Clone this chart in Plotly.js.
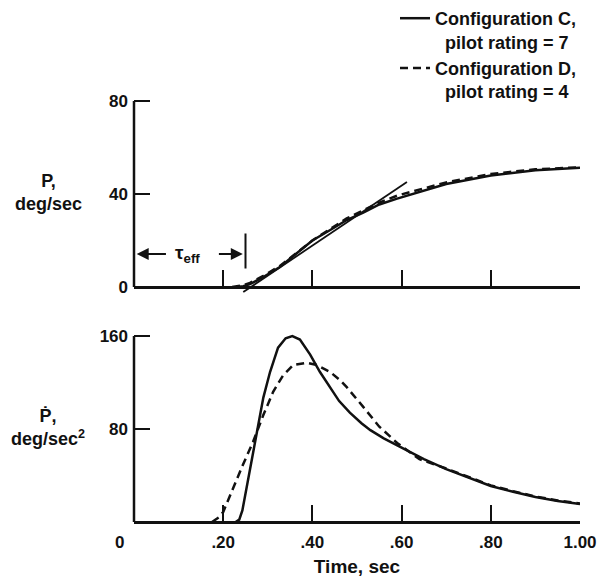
<!DOCTYPE html>
<html><head><meta charset="utf-8">
<script src="https://cdn.plot.ly/plotly-3.0.1.min.js"></script>
<style>html,body{margin:0;padding:0;background:#fff;} #chart{width:603px;height:579px;}</style>
</head><body><div id="chart"></div>
<script>
// ---- Top panel: roll rate P, deg/sec ----
const rollTimeC = [0.23, 0.245, 0.26, 0.29, 0.327, 0.365, 0.40, 0.44, 0.477, 0.514, 0.55, 0.59, 0.627, 0.70, 0.80, 0.90, 1.00];
const rollC     = [0,    0.3,   1.2,  4.3,  8.6,   14.6,  20,   24.5, 28.8,  32,    35.5, 38,   40.2,  44.3, 48,   50.2, 51.3];
const rollTimeD = [0.22, 0.245, 0.26, 0.29, 0.327, 0.365, 0.40, 0.44, 0.477, 0.514, 0.55, 0.59, 0.627, 0.70, 0.80, 0.90, 1.00];
const rollD     = [0,    0.8,   1.8,  4.8,  9,     14.8,  20,   25,   29.5,  33,    36.3, 39.3, 41.3,  45,   48.6, 50.6, 51.5];
// tangent line used to define effective time delay
const tangentTime = [0.245, 0.612];
const tangentRoll = [-2.2, 45.2];
const tauEff = 0.25;

// ---- Bottom panel: roll acceleration Pdot, deg/sec^2 ----
const accTimeC = [0.228, 0.236, 0.243, 0.25, 0.258, 0.267, 0.278, 0.29, 0.305, 0.323, 0.34, 0.355, 0.372, 0.395, 0.417, 0.44, 0.46, 0.484, 0.51, 0.53, 0.56, 0.60, 0.65, 0.70, 0.75, 0.80, 0.85, 0.90, 0.95, 1.00];
const accC     = [0,     2,     10,    24,   40,    59,    83,    107,  129,   150,   158,  160,   157,   144,   129,   115,  104,  94,    85,   79,   72,   64,   54,   45.5, 38,   31,   26,   21.5, 18,   15.5];
const accTimeD = [0.175, 0.19, 0.20, 0.222, 0.244, 0.267, 0.29, 0.312, 0.334, 0.357, 0.388, 0.41, 0.44, 0.462, 0.477, 0.514, 0.55, 0.59, 0.64, 0.70, 0.75, 0.80, 0.85, 0.90, 0.95, 1.00];
const accD     = [0,     4,    8.6,  29,    49,    69,    92,   112,   126,   135,   137,   135,  129,  122,   116,   99,    82,   68,   54,   46,   38.5, 31.5, 26.5, 22,   18.5, 16];

const xTickVals = [0.2, 0.4, 0.6, 0.8, 1.0];
const xTickText = ['.20', '.40', '.60', '.80', '1.00'];
const rollTickVals = [0, 40, 80];
const accTickVals = [0, 80, 160];
const accTickText = ['', '80', '160'];

const nameC = 'Configuration C,<br>\u00a0\u00a0pilot rating = 7';
const nameD = 'Configuration D,<br>\u00a0\u00a0pilot rating = 4';

const FAM = '"Liberation Sans", Arial, Helvetica, sans-serif';
const FONT = {family: FAM, size: 17, color: '#111', weight: 'bold'};
const TFONT = {family: FAM, size: 18, color: '#111', weight: 'bold'};
const LW = 2.5;
const DASH = '8px,5px';

const traces = [
  {x: accTimeC, y: accC, xaxis: 'x', yaxis: 'y', mode: 'lines', name: nameC, line: {color: '#111', width: LW}, legendrank: 1},
  {x: accTimeD, y: accD, xaxis: 'x', yaxis: 'y', mode: 'lines', name: nameD, line: {color: '#111', width: LW, dash: DASH}, legendrank: 2},
  {x: rollTimeC, y: rollC, xaxis: 'x2', yaxis: 'y2', mode: 'lines', showlegend: false, line: {color: '#111', width: LW}},
  {x: rollTimeD, y: rollD, xaxis: 'x2', yaxis: 'y2', mode: 'lines', showlegend: false, line: {color: '#111', width: LW, dash: DASH}},
  {x: tangentTime, y: tangentRoll, xaxis: 'x2', yaxis: 'y2', mode: 'lines', showlegend: false, line: {color: '#111', width: 1.8}}
];

const xDom = [134/603, 580/603];
const axCommonX = {
  domain: xDom, range: [0, 1], anchor: 'free', showline: true, linewidth: LW, linecolor: '#111',
  ticks: 'inside', ticklen: 16, tickwidth: 2, tickcolor: '#111', tickvals: xTickVals, ticktext: xTickText,
  showgrid: false, zeroline: false, tickfont: FONT
};

const layout = {
  width: 603, height: 579,
  margin: {l: 0, r: 0, t: 0, b: 0},
  paper_bgcolor: '#fff', plot_bgcolor: 'rgba(0,0,0,0)',
  font: FONT,
  showlegend: true,
  legend: {x: 395/603, y: 1, xanchor: 'left', yanchor: 'top', font: TFONT, valign: 'top', bgcolor: 'rgba(0,0,0,0)', tracegroupgap: 0},
  xaxis: Object.assign({}, axCommonX, {position: 1 - 522/579, ticklabelstandoff: 4,
    title: {text: 'Time, sec', font: Object.assign({}, TFONT, {size: 19}), standoff: 8}}),
  xaxis2: Object.assign({}, axCommonX, {position: 1 - 287/579, showticklabels: false}),
  yaxis: {domain: [1 - 526.65/579, 1 - 331.35/579], range: [-4, 164], anchor: 'x', showline: false,
    ticks: 'inside', ticklen: 16, tickwidth: 2, tickcolor: '#111', tickvals: accTickVals, ticktext: accTickText,
    showgrid: false, zeroline: false, tickfont: FONT, ticklabelstandoff: 5},
  yaxis2: {domain: [1 - 298.625/579, 1 - 96.35/579], range: [-5, 82], anchor: 'x2', showline: false,
    ticks: 'inside', ticklen: 16, tickwidth: 2, tickcolor: '#111', tickvals: rollTickVals,
    showgrid: false, zeroline: false, tickfont: FONT, ticklabelstandoff: 5},
  shapes: [
    {type: 'line', xref: 'paper', yref: 'y2', x0: 134/603, x1: 134/603, y0: 0, y1: 80, line: {color: '#111', width: LW}},
    {type: 'line', xref: 'paper', yref: 'y', x0: 134/603, x1: 134/603, y0: 0, y1: 160, line: {color: '#111', width: LW}},
    {type: 'line', xref: 'x2', yref: 'y2', x0: tauEff, x1: tauEff, y0: 8, y1: 23, line: {color: '#111', width: 2}}
  ],
  annotations: [
    {xref: 'paper', yref: 'paper', x: 48/603, y: 1 - 192/579, xanchor: 'center', yanchor: 'middle', text: 'P,<br>deg/sec', showarrow: false, font: TFONT, align: 'center'},
    {xref: 'paper', yref: 'paper', x: 48/603, y: 1 - 427/579, xanchor: 'center', yanchor: 'middle', text: '\u1E56,<br>deg/sec<sup>2</sup>', showarrow: false, font: TFONT, align: 'center'},
    {xref: 'paper', yref: 'paper', x: 126/603, y: 1 - 542/579, xanchor: 'right', yanchor: 'middle', text: '0', showarrow: false, font: FONT},
    {xref: 'x2', yref: 'y2', x: 0.006, y: 14.2, ax: 0.075, ay: 14.2, axref: 'x2', ayref: 'y2', text: '', showarrow: true, arrowhead: 2, arrowsize: 1.2, arrowwidth: 2, arrowcolor: '#111'},
    {xref: 'x2', yref: 'y2', x: tauEff - 0.006, y: 14.2, ax: tauEff - 0.063, ay: 14.2, axref: 'x2', ayref: 'y2', text: '', showarrow: true, arrowhead: 2, arrowsize: 1.2, arrowwidth: 2, arrowcolor: '#111'},
    {xref: 'x2', yref: 'y2', x: 0.121, y: 14.2, text: '\u03C4<sub>eff</sub>', showarrow: false, font: Object.assign({}, FONT, {size: 19})}
  ]
};

Plotly.newPlot('chart', traces, layout, {displayModeBar: false, staticPlot: true});
</script>
</body></html>
